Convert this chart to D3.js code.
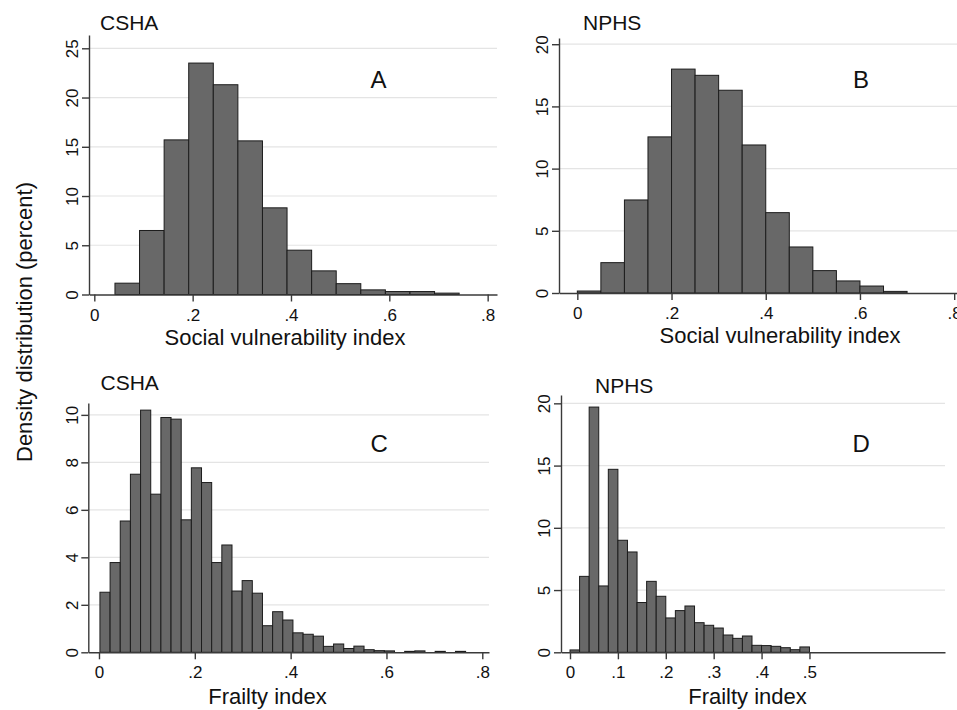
<!DOCTYPE html>
<html>
<head>
<meta charset="utf-8">
<script src="https://cdn.jsdelivr.net/npm/d3@7"></script>
<style>
body { margin: 0; background: #fff; }
text { font-family: "Liberation Sans", Arial, sans-serif; fill: #111; }
</style>
</head>
<body>
<div id="chart"></div>
<script>
// bar heights (percent per bin)
var sviCshaPct = [1.15, 6.5, 15.7, 23.5, 21.3, 15.6, 8.8, 4.5, 2.4, 1.1, 0.47, 0.3, 0.3, 0.14];
var sviNphsPct = [0.16, 2.44, 7.48, 12.55, 18.0, 17.5, 16.3, 11.9, 6.46, 3.7, 1.8, 0.97, 0.56, 0.13];
var fiCshaPct = [2.53, 3.78, 5.53, 7.5, 10.2, 6.66, 9.89, 9.82, 5.58, 7.77, 7.15, 3.78,
                 4.52, 2.58, 3.02, 2.49, 1.12, 1.71, 1.36, 0.82, 0.76, 0.68, 0.25, 0.35,
                 0.16, 0.26, 0.11, 0.07, 0.06, 0, 0.04, 0.06, 0, 0.04, 0, 0.04];
var fiNphsPct = [0.19, 6.1, 19.7, 5.33, 14.7, 9.0, 8.06, 4.0, 5.7, 4.5, 2.76, 3.35, 3.72,
                 2.38, 2.17, 1.95, 1.39, 1.12, 1.31, 0.56, 0.54, 0.48, 0.37, 0.21, 0.43];

// first bin edge and bin width of each histogram
var sviCshaBins = [0.042, 0.05];
var sviNphsBins = [0, 0.05];
var fiCshaBins = [0.002, 0.0212];
var fiNphsBins = [0, 0.02];

// tick values
var sviXTicks = [0, 0.2, 0.4, 0.6, 0.8];
var fiCshaXTicks = [0, 0.2, 0.4, 0.6, 0.8];
var fiNphsXTicks = [0, 0.1, 0.2, 0.3, 0.4, 0.5];
var sviCshaYTicks = [0, 5, 10, 15, 20, 25];
var sviNphsYTicks = [0, 5, 10, 15, 20];
var fiCshaYTicks = [0, 2, 4, 6, 8, 10];
var fiNphsYTicks = [0, 5, 10, 15, 20];

var panelTitles = ["CSHA", "NPHS", "CSHA", "NPHS"];
var panelLetters = ["A", "B", "C", "D"];
var xTitles = ["Social vulnerability index", "Social vulnerability index", "Frailty index", "Frailty index"];
var yTitle = "Density distribution (percent)";

// layout of the four panels
var panels = [
  {values: sviCshaPct, bins: sviCshaBins, xTicks: sviXTicks, yTicks: sviCshaYTicks,
   box: {l: 89, r: 497, t: 35, b: 294.5}, xDom: [-0.0108, 0.819], yMax: 26.35,
   title: [100, 29.5], letter: [370.5, 88.3], xTitle: [285, 345]},
  {values: sviNphsPct, bins: sviNphsBins, xTicks: sviXTicks, yTicks: sviNphsYTicks,
   box: {l: 559, r: 957, t: 38, b: 293}, xDom: [-0.0389, 0.806], yMax: 20.5,
   title: [583, 29.5], letter: [853, 88.3], xTitle: [780, 343]},
  {values: fiCshaPct, bins: fiCshaBins, xTicks: fiCshaXTicks, yTicks: fiCshaYTicks,
   box: {l: 88.3, r: 489, t: 403, b: 652.3}, xDom: [-0.0223, 0.814], yMax: 10.5,
   title: [100.5, 389.5], letter: [370.5, 452], xTitle: [267.5, 704]},
  {values: fiNphsPct, bins: fiNphsBins, xTicks: fiNphsXTicks, yTicks: fiNphsYTicks,
   box: {l: 561, r: 945, t: 395, b: 652.3}, xDom: [-0.0188, 0.783], yMax: 20.67,
   title: [595, 392.5], letter: [852.5, 452], xTitle: [747.5, 704]}
];

var fmt = function(d) { return d === 0 ? "0" : String(d).replace(/^0/, ""); };

var svg = d3.select("#chart")
  .append("svg")
    .attr("width", 957)
    .attr("height", 710);

svg.append("rect").attr("width", 957).attr("height", 710).attr("fill", "#fff");

panels.forEach(function(p, k) {
  var x = d3.scaleLinear().domain(p.xDom).range([p.box.l, p.box.r]);
  var y = d3.scaleLinear().domain([0, p.yMax]).range([p.box.b, p.box.t]);
  var g = svg.append("g");

  // grid lines
  g.append("g")
    .selectAll("line")
    .data(p.yTicks.filter(function(d) { return d > 0; }))
    .enter()
    .append("line")
      .attr("x1", p.box.l)
      .attr("x2", p.box.r)
      .attr("y1", function(d) { return y(d); })
      .attr("y2", function(d) { return y(d); })
      .attr("stroke", "#e4e4e4")
      .attr("stroke-width", 1.2);

  // bars
  var start = p.bins[0], w = p.bins[1];
  g.append("g")
    .selectAll("rect")
    .data(p.values)
    .enter()
    .append("rect")
      .attr("x", function(d, i) { return x(start + i * w); })
      .attr("width", function(d, i) { return x(start + (i + 1) * w) - x(start + i * w); })
      .attr("y", function(d) { return y(d); })
      .attr("height", function(d) { return y(0) - y(d); })
      .attr("fill", "#686868")
      .attr("stroke", "#1c1c1c")
      .attr("stroke-width", 1);

  // x axis
  var xa = g.append("g")
    .attr("transform", "translate(0," + p.box.b + ")")
    .call(d3.axisBottom(x).tickValues(p.xTicks).tickFormat(fmt)
      .tickSize(7).tickSizeOuter(0).tickPadding(7));
  // y axis
  var ya = g.append("g")
    .attr("transform", "translate(" + p.box.l + ",0)")
    .call(d3.axisLeft(y).tickValues(p.yTicks).tickFormat(fmt)
      .tickSize(7).tickSizeOuter(0));
  ya.selectAll("text")
    .attr("x", 0)
    .attr("dy", 0)
    .attr("text-anchor", "middle")
    .attr("transform", "translate(-10.7,0) rotate(-90)");

  [xa, ya].forEach(function(a) {
    a.selectAll("path, line").attr("stroke", "#3a3a3a").attr("stroke-width", 1.4);
    a.selectAll("text").style("font-size", "17px").attr("fill", "#111");
  });

  g.append("text")
    .attr("x", p.title[0]).attr("y", p.title[1])
    .style("font-size", "21px")
    .text(panelTitles[k]);

  g.append("text")
    .attr("x", p.letter[0]).attr("y", p.letter[1])
    .style("font-size", "24px")
    .text(panelLetters[k]);

  g.append("text")
    .attr("x", p.xTitle[0]).attr("y", p.xTitle[1])
    .attr("text-anchor", "middle")
    .style("font-size", "22px")
    .text(xTitles[k]);
});

svg.append("text")
  .attr("transform", "translate(32,322) rotate(-90)")
  .attr("text-anchor", "middle")
  .style("font-size", "22px")
  .text(yTitle);
</script>
</body>
</html>
